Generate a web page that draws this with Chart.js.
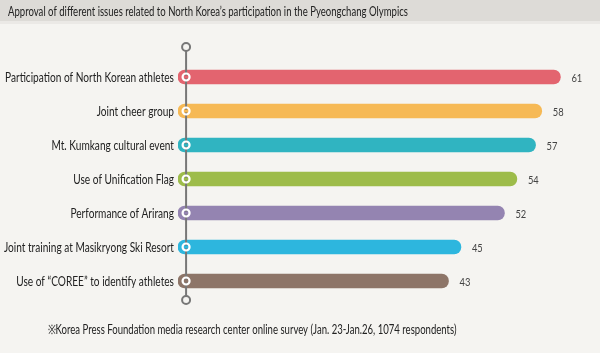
<!DOCTYPE html>
<html>
<head>
<meta charset="utf-8">
<script src="https://cdn.jsdelivr.net/npm/chart.js@4"></script>
<style>
    html, body { margin: 0; padding: 0; background: #f5f4f1; }
    #wrap { position: relative; width: 600px; height: 353px; overflow: hidden; }
    #header {
        position: absolute; left: 0; top: 0; width: 600px; height: 21px;
        background: #dddbd7; border-bottom: 3px solid #ebe9e6;
    }
    canvas { position: absolute; left: 0; top: 0; }
</style>
</head>
<body>
<div id="wrap">
    <div id="header"></div>
    <canvas id="approvalChart" width="600" height="353"></canvas>
</div>
<script>
const titleText = 'Approval of different issues related to North Korea’s participation in the Pyeongchang Olympics';
const noteText = '※Korea Press Foundation media research center online survey (Jan. 23-Jan.26, 1074 respondents)';
const issues = [
    'Participation of North Korean athletes',
    'Joint cheer group',
    'Mt. Kumkang cultural event',
    'Use of Unification Flag',
    'Performance of Arirang',
    'Joint training at Masikryong Ski Resort',
    'Use of “COREE” to identify athletes'
];
const approval = [61, 58, 57, 54, 52, 45, 43];
const barColors = ['#e3646f', '#f6b955', '#30b4c1', '#9dbc4a', '#9484b1', '#2db6de', '#8d7568'];

const FONT = 'Lato, "Open Sans", sans-serif';

// draws text squeezed horizontally to mimic the condensed face of the original
function narrowText(ctx, text, x, y, squeeze, align) {
    ctx.save();
    ctx.translate(x, y);
    ctx.scale(squeeze, 1);
    ctx.textAlign = align;
    ctx.fillText(text, 0, 0);
    ctx.restore();
}

const decorations = {
    id: 'decorations',
    afterDatasetsDraw(chart) {
        const ctx = chart.ctx;
        const xs = chart.scales.x;
        const meta = chart.getDatasetMeta(0);
        const axisX = xs.getPixelForValue(0.8);
        const top = chart.chartArea.top;
        const bottom = chart.chartArea.bottom;

        ctx.save();
        ctx.textBaseline = 'middle';

        // title and footnote
        ctx.fillStyle = '#222';
        ctx.font = '13px ' + FONT;
        narrowText(ctx, titleText, 8, 11.5, 400 / ctx.measureText(titleText).width, 'left');
        narrowText(ctx, noteText, 252, 330, 409 / ctx.measureText(noteText).width, 'center');

        // axis line with end caps
        ctx.strokeStyle = '#777';
        ctx.lineWidth = 2;
        ctx.beginPath();
        ctx.moveTo(axisX, top - 9);
        ctx.lineTo(axisX, bottom - 2);
        ctx.stroke();
        [top - 13, bottom + 2].forEach(cy => {
            ctx.beginPath();
            ctx.arc(axisX, cy, 4, 0, Math.PI * 2);
            ctx.fillStyle = '#f5f4f1';
            ctx.fill();
            ctx.stroke();
        });

        ctx.font = '13px ' + FONT;
        const labelSqueeze = 169 / ctx.measureText(issues[0]).width;

        meta.data.forEach((bar, i) => {
            const cy = bar.y;
            ctx.beginPath();
            ctx.arc(axisX, cy, 3.5, 0, Math.PI * 2);
            ctx.strokeStyle = '#fff';
            ctx.lineWidth = 2.2;
            ctx.stroke();
            ctx.beginPath();
            ctx.arc(axisX, cy, 1.6, 0, Math.PI * 2);
            ctx.fillStyle = barColors[i];
            ctx.fill();

            ctx.fillStyle = '#222';
            ctx.font = '13px ' + FONT;
            narrowText(ctx, issues[i], 174, cy + 1, labelSqueeze, 'right');

            ctx.fillStyle = '#444';
            ctx.font = '11px ' + FONT;
            narrowText(ctx, String(approval[i]), bar.x + 11, cy + 1, 0.85, 'left');
        });
        ctx.restore();
    }
};

new Chart(document.getElementById('approvalChart').getContext('2d'), {
    type: 'bar',
    data: {
        labels: issues,
        datasets: [{
            data: approval,
            backgroundColor: barColors,
            borderWidth: 0,
            borderRadius: 7,
            borderSkipped: false,
            barThickness: 14,
            base: -0.5
        }]
    },
    options: {
        indexAxis: 'y',
        responsive: false,
        animation: false,
        layout: {
            padding: { left: 178, right: 8.5, top: 60, bottom: 55 }
        },
        plugins: {
            legend: { display: false },
            tooltip: { enabled: false }
        },
        scales: {
            x: { display: false, min: -0.5, max: 66 },
            y: { display: false }
        }
    },
    plugins: [decorations]
});
</script>
</body>
</html>
